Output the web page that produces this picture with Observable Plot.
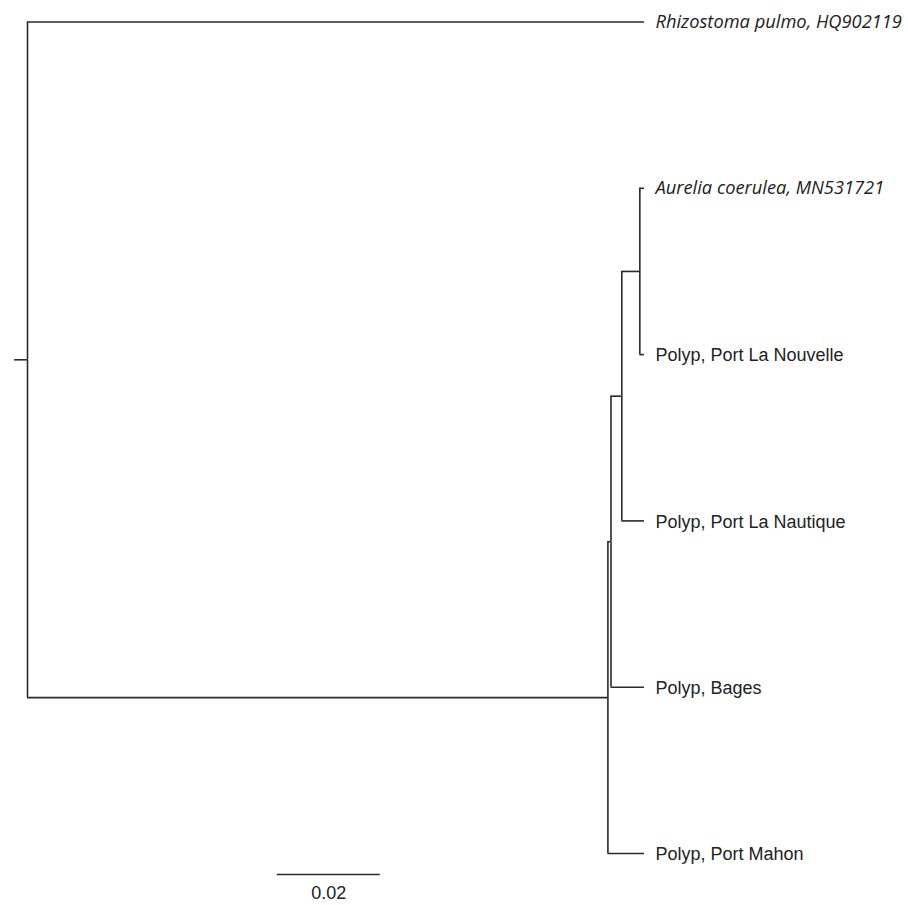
<!DOCTYPE html>
<html>
<head>
<meta charset="utf-8">
<script src="https://cdn.jsdelivr.net/npm/d3@7"></script>
<script src="https://cdn.jsdelivr.net/npm/@observablehq/plot@0.6"></script>
<style>
  html, body { margin: 0; padding: 0; background: #fff; }
  #chart svg { display: block; }
</style>
</head>
<body>
<div id="chart"></div>
<script>
// ---- Tree data ----
const nodeIds       = ["root", "Rhizo", "A", "B", "C", "D", "Aurelia", "Nouvelle", "Nautique", "Bages", "Mahon"];
const parentIds     = [null,   "root",  "root", "A", "B", "C", "D",      "D",        "C",        "B",     "A"];
const branchLengths = [0,      0.1198,  0.1127, 0.0006, 0.0021, 0.0035, 0.0009, 0.0009, 0.0044, 0.0065, 0.0071];
// leaf labels, top to bottom
const leafIds    = ["Rhizo", "Aurelia", "Nouvelle", "Nautique", "Bages", "Mahon"];
const leafLabels = ["Rhizostoma pulmo, HQ902119", "Aurelia coerulea, MN531721", "Polyp, Port La Nouvelle",
                    "Polyp, Port La Nautique", "Polyp, Bages", "Polyp, Port Mahon"];
const leafItalic = [true, true, false, false, false, false];
const rootStem = 0.0025;
const scaleBarLength = 0.02;
const scaleBarLabel = "0.02";

// ---- Layout (computed from the data) ----
const byId = new Map(nodeIds.map((id, i) => [id, {id, parent: parentIds[i], len: branchLengths[i], children: []}]));
for (const n of byId.values()) if (n.parent) byId.get(n.parent).children.push(n);
function setX(n, x0) { n.x = x0 + n.len; n.children.forEach(c => setX(c, n.x)); }
setX(byId.get("root"), 0);
leafIds.forEach((id, i) => byId.get(id).y = i);
function setY(n) { if (n.children.length) { n.children.forEach(setY); n.y = d3.mean(n.children, c => c.y); } }
setY(byId.get("root"));

const edges = [...byId.values()].filter(n => n.parent).map(n => ({
  px: byId.get(n.parent).x, py: byId.get(n.parent).y, cx: n.x, cy: n.y
}));
const root = byId.get("root");
const leaves = leafIds.map((id, i) => ({x: byId.get(id).x, y: byId.get(id).y, label: leafLabels[i], italic: leafItalic[i]}));

const pxPerUnit = 5150;
const x0px = 27;
const xMax = 0.17;

const ink = "#2a2a2a";
const sw = 1.6;
const chart = Plot.plot({
  width: 908,
  height: 905,
  margin: 0,
  x: {type: "linear", domain: [0, xMax], range: [x0px, x0px + xMax * pxPerUnit], axis: null},
  y: {type: "linear", domain: [0, 5], range: [21.5, 853], axis: null},
  marks: [
    // horizontal branches
    Plot.ruleY(edges, {y: "cy", x1: "px", x2: "cx", stroke: ink, strokeWidth: sw}),
    // vertical connectors
    Plot.ruleX(edges, {x: "px", y1: "py", y2: "cy", stroke: ink, strokeWidth: sw}),
    // root stem
    Plot.ruleY([root], {y: "y", x1: -rootStem, x2: 0, stroke: ink, strokeWidth: sw}),
    // labels
    Plot.text(leaves.filter(d => d.italic), {x: "x", y: "y", text: "label", textAnchor: "start", dx: 11,
      fontFamily: "Open Sans", fontStyle: "italic", fontSize: 18.3, fill: "#222"}),
    Plot.text(leaves.filter(d => !d.italic), {x: "x", y: "y", text: "label", textAnchor: "start", dx: 11, dy: 1,
      fontFamily: "Liberation Sans, Arial, sans-serif", fontSize: 18, fill: "#222"}),
    // scale bar
    Plot.ruleY([scaleBarLength], {y: () => 5.126, x1: () => 0.0485, x2: d => 0.0485 + d, stroke: ink, strokeWidth: sw}),
    Plot.text([scaleBarLabel], {x: () => 0.0485 + scaleBarLength / 2, y: () => 5.24, text: d => d,
      fontFamily: "Liberation Sans, Arial, sans-serif", fontSize: 18, fill: "#222"})
  ]
});
document.getElementById("chart").appendChild(chart);
</script>
</body>
</html>
